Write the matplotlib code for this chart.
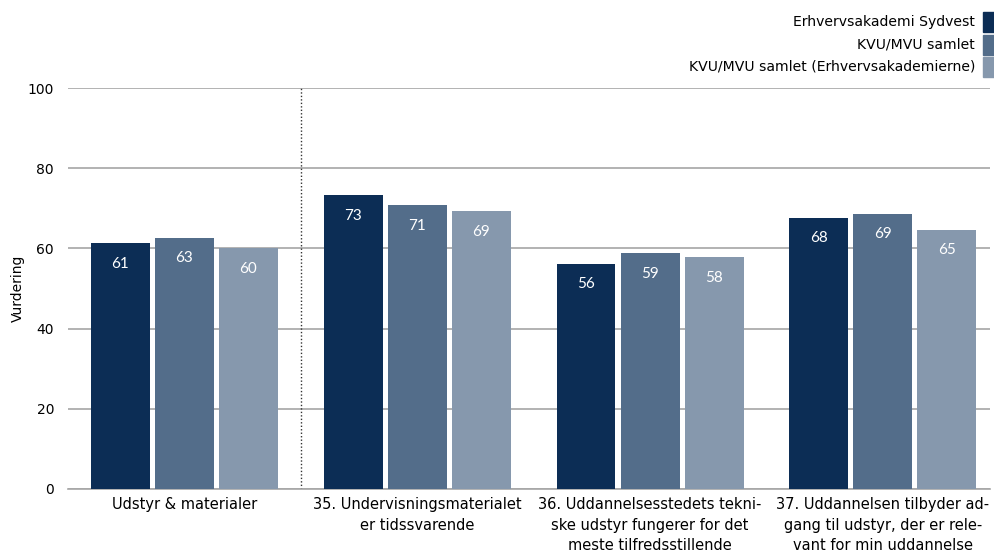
import matplotlib
matplotlib.use("Agg")
import matplotlib.pyplot as plt
from matplotlib.patches import Rectangle
import numpy as np

categories = ["Udstyr & materialer",
              "35. Undervisningsmaterialet\ner tidssvarende",
              "36. Uddannelsesstedets tekni-\nske udstyr fungerer for det\nmeste tilfredsstillende",
              "37. Uddannelsen tilbyder ad-\ngang til udstyr, der er rele-\nvant for min uddannelse"]
series_names = ["Erhvervsakademi Sydvest", "KVU/MVU samlet", "KVU/MVU samlet (Erhvervsakademierne)"]
sydvest = [61.4, 73.2, 56.2, 67.7]
kvu = [62.7, 70.9, 58.8, 68.7]
kvu_ea = [60.0, 69.4, 57.8, 64.7]
labels_syd = [61, 73, 56, 68]
labels_kvu = [63, 71, 59, 69]
labels_ea = [60, 69, 58, 65]
yticks = [0, 20, 40, 60, 80, 100]

colors = ["#0c2d55", "#536d8a", "#8698ad"]

fig = plt.figure(figsize=(9.95, 5.52), dpi=100)
ax = fig.add_axes([68/995, 63/552, 922/995, 401/552])

x = np.arange(len(categories))
w = 0.253
step = 0.275
allvals = [sydvest, kvu, kvu_ea]
alllabels = [labels_syd, labels_kvu, labels_ea]
for i, (vals, labs) in enumerate(zip(allvals, alllabels)):
    pos = x + (i - 1) * step
    ax.bar(pos, vals, width=w, color=colors[i], zorder=3)
    for p, v, l in zip(pos, vals, labs):
        ax.annotate(str(l), (p, v), xytext=(0, -15), textcoords="offset points",
                    ha="center", va="center", color="white", fontsize=11,
                    family=["Lato", "DejaVu Sans"], zorder=4)

ax.set_ylim(0, 100)
ax.set_xlim(-0.5, 3.46)
ax.set_yticks(yticks)
ax.yaxis.grid(True, color="#a6a6a6", linewidth=1.2, zorder=0)
ax.set_axisbelow(True)
for s in ["top", "right", "left"]:
    ax.spines[s].set_visible(False)
ax.spines["bottom"].set_color("#a6a6a6")
ax.spines["bottom"].set_linewidth(1.2)
ax.tick_params(axis="both", length=0)
ax.tick_params(axis="y", pad=10, labelsize=10)
ax.set_xticks(x)
ax.set_xticklabels(categories, fontsize=10.5,
                   family=["Liberation Sans Narrow", "DejaVu Sans"], linespacing=1.45)
ax.tick_params(axis="x", pad=6)
ax.set_ylabel("Vurdering", fontsize=10)
ax.yaxis.set_label_coords(-0.047, 0.5)
ax.vlines(0.5, 0, 100, colors="#333333", linestyles=(0, (1, 1.5)), linewidth=1, zorder=2)

# legend
ys = [22, 45, 67]
for name, c, yy in zip(series_names, colors, ys):
    fig.text(975/995, 1 - yy/552, name, ha="right", va="center", fontsize=10.1)
    fig.patches.append(Rectangle((983/995, 1 - (yy + 10)/552), 12/995, 20/552,
                                 transform=fig.transFigure, color=c, figure=fig))

fig.savefig("out.png", dpi=100)
